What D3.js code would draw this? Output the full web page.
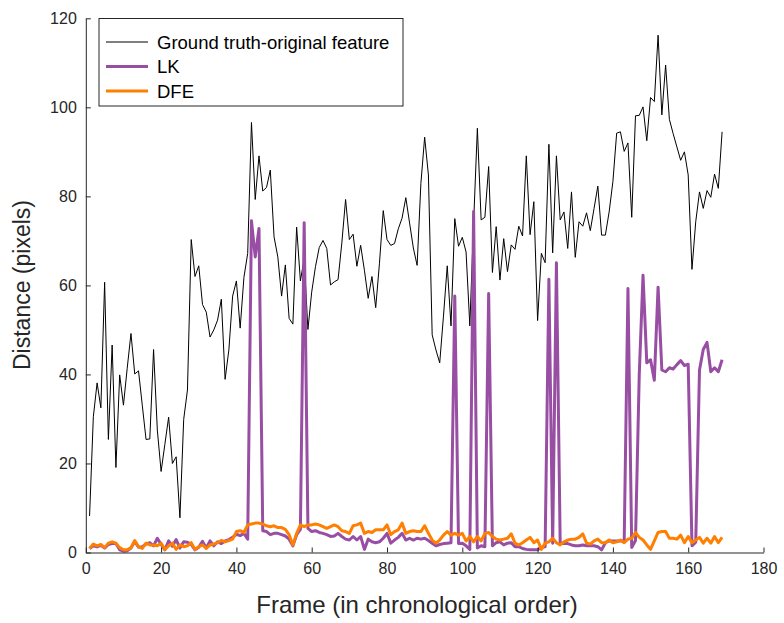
<!DOCTYPE html>
<html><head><meta charset="utf-8">
<script src="https://cdn.jsdelivr.net/npm/d3@7"></script>
<style>body{margin:0;background:#fff}svg{font-family:"Liberation Sans",Arial,sans-serif}</style>
</head><body>
<svg id="c" width="784" height="623"></svg>
<script>
const xTicks = [0,20,40,60,80,100,120,140,160,180];
const yTicks = [0,20,40,60,80,100,120];
const seriesNames = ["Ground truth-original feature","LK","DFE"];
const groundTruth = [8.2,30.5,38.1,32.5,60.7,25.4,46.6,19.1,39.9,33.1,41.4,49.2,40.1,40.8,33.1,25.4,25.5,45.6,27.5,18.2,
24.3,30.4,20.0,21.5,7.8,29.9,36.5,70.3,62.0,64.4,55.7,54.0,48.4,50.0,52.2,56.9,38.9,45.5,57.6,61.0,
50.4,61.8,67.2,96.6,79.3,89.1,81.2,82.0,85.9,70.9,66.4,57.6,64.6,52.6,51.3,73.1,61.0,66.0,50.1,58.5,
64.2,68.5,70.1,68.3,60.1,60.8,61.3,69.5,79.3,70.3,71.5,64.3,69.0,63.4,57.1,62.0,55.0,65.0,76.8,70.3,
69.0,69.4,72.7,75.1,79.7,74.0,68.4,64.5,82.9,93.3,84.8,48.9,45.5,42.6,53.1,64.4,50.9,75.0,68.8,70.8,
67.5,50.9,74.0,95.3,74.7,75.3,86.7,62.9,73.2,61.2,70.5,63.1,69.1,68.1,73.3,71.1,89.1,71.4,78.8,52.1,
67.2,65.1,91.7,67.3,89.1,74.7,76.5,68.3,81.0,66.3,74.3,73.3,76.3,72.3,77.3,82.3,71.3,71.3,76.5,83.3,
94.2,94.5,90.1,92.0,75.3,98.1,98.2,100.1,92.5,102.2,101.3,116.2,98.3,109.5,97.3,94.1,91.1,88.1,90.0,84.8,
63.6,74.3,81.0,77.3,81.3,79.8,85.0,81.8,94.5];
const lk = [0.9,1.5,1.3,1.6,1.0,1.8,2.0,2.0,0.6,0.3,0.4,1.0,2.5,1.2,1.3,1.9,2.2,1.5,3.2,1.8,
0.6,2.6,1.4,2.9,1.0,2.4,2.3,1.8,0.6,1.2,2.5,1.0,2.6,1.5,2.4,2.0,2.6,2.9,3.4,4.1,
3.8,4.3,3.0,74.5,66.4,72.8,4.9,4.7,4.0,4.3,4.3,4.0,3.7,3.0,1.5,4.0,5.2,74.1,5.4,4.7,
4.9,4.5,4.3,4.0,3.6,3.7,4.3,3.6,3.0,2.8,3.6,2.8,3.6,0.7,3.0,2.4,2.2,2.4,3.2,4.3,
2.1,2.8,3.4,4.3,2.8,3.2,2.8,3.2,3.0,3.2,2.7,2.1,1.5,1.8,2.0,2.1,2.2,57.6,2.0,2.1,
1.5,0.7,76.6,1.0,1.5,1.3,58.2,1.5,2.2,2.4,1.7,2.1,2.2,1.3,1.3,0.9,0.7,0.6,0.6,0.6,
1.2,1.3,61.4,2.1,65.1,2.0,2.1,2.0,1.7,1.5,1.5,1.7,1.5,1.5,1.5,1.3,0.6,2.2,2.6,2.6,
2.6,2.6,2.6,59.3,1.1,2.7,40.0,62.3,42.6,43.3,38.7,59.6,41.0,40.6,41.5,41.2,42.2,43.1,42.0,42.3,
1.5,2.3,41.0,45.6,47.2,40.6,41.5,40.6,43.3];
const dfe = [0.9,1.9,1.5,1.8,1.1,2.1,2.4,2.1,1.1,0.6,0.6,1.1,2.7,1.3,0.9,2.1,1.7,1.7,1.5,2.1,
0.7,1.5,2.1,0.7,1.7,1.3,1.5,2.2,0.7,1.3,1.7,0.9,1.7,1.9,2.2,2.7,2.4,2.7,3.0,4.7,
4.9,4.5,6.2,6.4,6.6,6.6,6.4,6.0,5.8,6.0,5.6,5.6,5.2,4.0,1.7,4.3,6.2,5.8,6.2,6.2,
6.4,6.2,5.8,5.4,5.8,6.2,5.8,4.9,4.7,4.3,6.0,6.2,6.6,4.3,4.7,4.5,5.1,5.1,5.1,6.2,
4.0,4.7,5.1,6.6,4.3,4.7,4.9,4.7,4.7,6.0,4.3,2.8,2.1,2.8,3.9,4.7,3.9,4.3,3.9,4.3,
2.6,3.6,2.4,3.6,2.6,4.3,4.5,3.6,3.0,2.8,3.0,3.2,4.2,2.1,1.7,2.2,2.8,3.4,2.2,2.8,
0.7,2.1,2.4,3.2,2.2,1.7,2.4,2.8,3.0,3.0,3.4,4.2,2.1,1.9,2.6,3.0,2.2,2.2,2.8,2.2,
2.4,2.8,2.2,3.0,3.2,4.5,3.4,2.8,1.7,0.7,2.6,4.5,4.7,4.7,3.2,3.2,3.0,3.9,2.2,3.6,
2.2,2.8,3.4,2.1,3.2,2.1,3.6,2.2,3.4];

const svg = d3.select("#c");
const x = d3.scaleLinear().domain([0,180]).range([85.8,763.5]);
const y = d3.scaleLinear().domain([0,120]).range([552.5,18.3]);
const axisColor = "#262626";

const line = d3.line().x((d,i)=>x(i+1)).y(d=>y(d));
svg.append("path").datum(groundTruth).attr("d",line).attr("fill","none").attr("stroke","#000").attr("stroke-width",1);
svg.append("path").datum(lk).attr("d",line).attr("fill","none").attr("stroke","#984ea3").attr("stroke-width",3).attr("stroke-linejoin","round");
svg.append("path").datum(dfe).attr("d",line).attr("fill","none").attr("stroke","#ff7f00").attr("stroke-width",3).attr("stroke-linejoin","round");

const gx = svg.append("g").attr("transform","translate(0,552.5)")
  .call(d3.axisBottom(x).tickValues(xTicks).tickSize(-5).tickPadding(10).tickSizeOuter(0));
const gy = svg.append("g").attr("transform","translate(85.8,0)")
  .call(d3.axisLeft(y).tickValues(yTicks).tickSize(-5).tickPadding(9).tickSizeOuter(0));
[gx,gy].forEach(g=>{
  g.select(".domain").attr("stroke",axisColor);
  g.selectAll(".tick line").attr("stroke",axisColor);
  g.selectAll(".tick text").attr("fill",axisColor).style("font-size","16px").style("font-family","'Liberation Sans',Arial,sans-serif");
});

svg.append("text").attr("x",417).attr("y",613).attr("text-anchor","middle")
  .style("font-size","24px").attr("fill",axisColor).text("Frame (in chronological order)");
svg.append("text").attr("transform","translate(30,285) rotate(-90)").attr("text-anchor","middle")
  .style("font-size","23px").attr("fill",axisColor).text("Distance (pixels)");

// legend
const lg = svg.append("g");
lg.append("rect").attr("x",99).attr("y",18.5).attr("width",304).attr("height",87.5)
  .attr("fill","#fff").attr("stroke",axisColor).attr("stroke-width",1);
const items = [{n:seriesNames[0],c:"#000",w:1},{n:seriesNames[1],c:"#984ea3",w:3},{n:seriesNames[2],c:"#ff7f00",w:3}];
items.forEach((it,i)=>{
  const yy = 42 + i*24.5;
  lg.append("line").attr("x1",106).attr("x2",148).attr("y1",yy).attr("y2",yy).attr("stroke",it.c).attr("stroke-width",it.w);
  lg.append("text").attr("x",157).attr("y",yy+6.5).style("font-size","18.5px").attr("fill","#000").text(it.n);
});
</script>
</body></html>
